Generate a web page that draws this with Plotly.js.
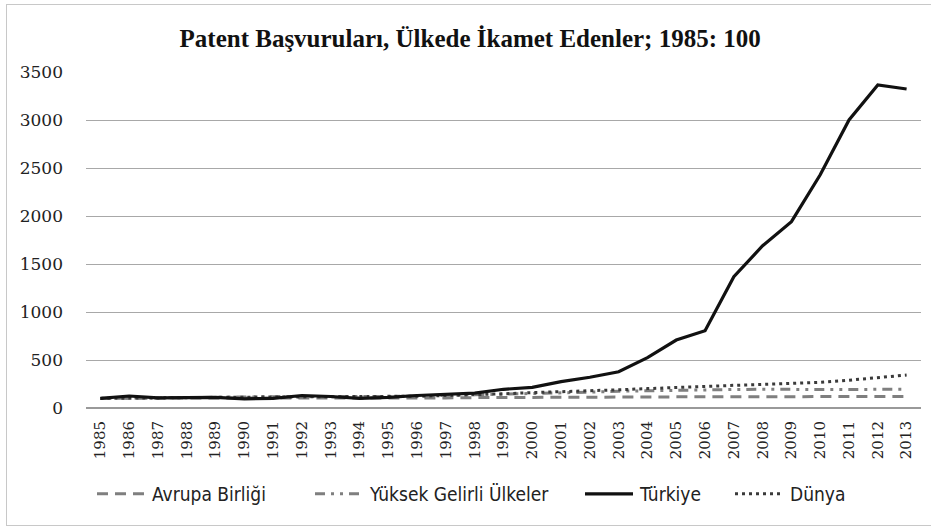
<!DOCTYPE html>
<html>
<head>
<meta charset="utf-8">
<script src="https://cdn.plot.ly/plotly-3.0.1.min.js"></script>
<style>
html,body{margin:0;padding:0;background:#fff;overflow:hidden;width:931px;height:527px;}
#wrap{position:absolute;left:6px;top:4px;width:940px;height:522px;border:1px solid #c8c8c8;border-right:none;box-sizing:border-box;}
#chart{position:absolute;left:0;top:0;width:931px;height:527px;}
</style>
</head>
<body>
<div id="wrap"></div>
<div id="chart"></div>
<script>
const years = ["1985","1986","1987","1988","1989","1990","1991","1992","1993","1994","1995","1996","1997","1998","1999","2000","2001","2002","2003","2004","2005","2006","2007","2008","2009","2010","2011","2012","2013"];
const avrupaBirligi = [100,103,104,105,105,104,103,103,101,100,101,103,105,108,110,113,113,113,114,115,116,117,118,119,118,117,118,119,120];
const yuksekGelirli = [100,104,108,112,114,116,118,120,118,117,120,124,130,136,145,155,160,165,175,180,188,190,193,195,192,190,192,195,195];
const turkiye = [100,125,105,108,110,95,100,130,120,100,110,130,145,155,195,215,274,320,378,524,708,805,1368,1690,1941,2430,3000,3365,3323];
const dunya = [100,104,107,110,112,113,114,116,115,115,118,123,130,137,148,160,168,178,190,202,215,226,236,246,255,268,290,315,343];
const seriesNames = ["Avrupa Birliği","Yüksek Gelirli Ülkeler","Türkiye","Dünya"];
const yTicks = [0,500,1000,1500,2000,2500,3000,3500];

const SERIF = 'Liberation Serif';
const TICKSERIF = 'DejaVu Serif';
const NARROW = 'DejaVu Sans Condensed';

const traces = [
  {x: years, y: avrupaBirligi, name: seriesNames[0], type: 'scatter', mode: 'lines',
   line: {color: '#7f7f7f', width: 3, dash: '11px,7px'}, legend: 'legend'},
  {x: years, y: yuksekGelirli, name: seriesNames[1], type: 'scatter', mode: 'lines',
   line: {color: '#7f7f7f', width: 3, dash: '10px,6px,3px,6px,3px,6px'}, legend: 'legend2'},
  {x: years, y: dunya, name: seriesNames[3], type: 'scatter', mode: 'lines',
   line: {color: '#3a3a3a', width: 3, dash: '3px,4px'}, legend: 'legend4'},
  {x: years, y: turkiye, name: seriesNames[2], type: 'scatter', mode: 'lines',
   line: {color: '#111111', width: 3.2}, legend: 'legend3'}
];

const L = 86, R = 10, PW = 931 - L - R;
function px2paper(px){ return (px - L) / PW; }
const legFont = {family: NARROW, size: 19, color: '#222'};
const legBase = {orientation: 'h', xanchor: 'left', y: -0.256, yanchor: 'middle', font: legFont,
                 bgcolor: 'rgba(0,0,0,0)', borderwidth: 0, itemwidth: 50};

const layout = {
  width: 931, height: 527,
  font: {family: SERIF, color: '#222'},
  paper_bgcolor: 'rgba(0,0,0,0)', plot_bgcolor: 'rgba(0,0,0,0)',
  margin: {l: L, r: R, t: 72, b: 119},
  title: {text: '<b>Patent Başvuruları, Ülkede İkamet Edenler; 1985: 100</b>',
          font: {family: SERIF, size: 25, color: '#111'},
          x: 0.505, xanchor: 'center', yref: 'container', y: 1 - 38/527, yanchor: 'middle'},
  xaxis: {type: 'category', range: [-0.5, 28.5], tickangle: -90, showgrid: false,
          showline: false, ticks: '', zeroline: false, ticklabelstandoff: 9,
          tickfont: {family: TICKSERIF, size: 15, color: '#222'}},
  yaxis: {range: [0, 3500], tickvals: yTicks, showgrid: true, gridcolor: '#a8a8a8', gridwidth: 1,
          zeroline: true, zerolinecolor: '#999', zerolinewidth: 1.5, ticks: '',
          tickfont: {family: TICKSERIF, size: 17, color: '#222'}, ticklabelstandoff: 22},
  showlegend: true,
  legend:  Object.assign({}, legBase, {x: px2paper(92)}),
  legend2: Object.assign({}, legBase, {x: px2paper(310)}),
  legend3: Object.assign({}, legBase, {x: px2paper(580)}),
  legend4: Object.assign({}, legBase, {x: px2paper(730)})
};

Plotly.newPlot('chart', traces, layout, {displayModeBar: false, staticPlot: true}).then(function(gd){
  gd.querySelectorAll('.legendlines path').forEach(function(p){ p.setAttribute('d', 'M5,0h48'); });
});
</script>
</body>
</html>
